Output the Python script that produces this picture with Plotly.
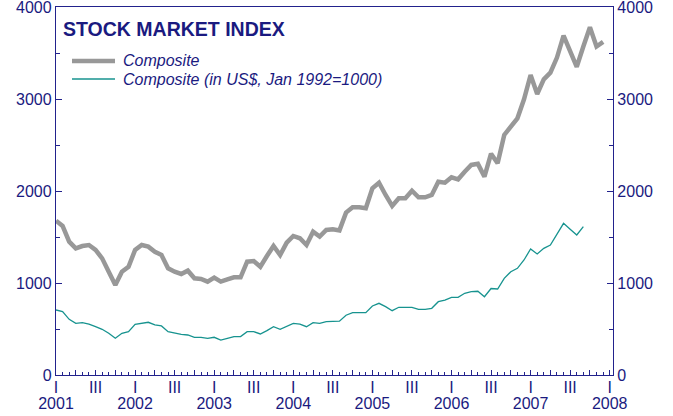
import plotly.graph_objects as go

# Monthly observations, Jan 2001 onward (month index 0 = Jan 2001)
composite = [1677, 1620, 1449, 1377, 1402, 1413, 1359, 1268, 1123, 978, 1123, 1177,
             1359, 1413, 1395, 1340, 1304, 1160, 1123, 1098, 1134, 1051, 1044, 1015,
             1058, 1015, 1040, 1062, 1062, 1232, 1239, 1177, 1293, 1402, 1304, 1438,
             1511, 1486, 1413, 1558, 1504, 1576, 1584, 1572, 1765, 1823, 1823, 1812,
             2029, 2090, 1957, 1837, 1921, 1921, 2003, 1932, 1932, 1957, 2101, 2090,
             2149, 2127, 2210, 2283, 2295, 2156, 2405, 2301, 2609, 2707, 2790, 2997,
             3261, 3054, 3214, 3286, 3450, 3690, 3520, 3350, 3570, 3780, 3570, 3620]
composite_usd = [707, 688, 605, 562, 569, 554, 525, 497, 453, 399, 453, 471,
                 551, 562, 573, 544, 533, 471, 453, 442, 435, 410, 410, 399,
                 410, 380, 399, 417, 417, 471, 471, 446, 482, 525, 497, 533,
                 562, 554, 525, 569, 562, 580, 580, 585, 650, 677, 677, 677,
                 750, 779, 743, 699, 736, 732, 736, 714, 714, 725, 797, 815,
                 844, 844, 888, 906, 910, 851, 940, 935, 1051, 1123, 1160, 1250,
                 1370, 1315, 1377, 1413, 1530, 1649, 1585, 1522, 1612]
years = [2001, 2002, 2003, 2004, 2005, 2006, 2007, 2008]
quarter_labels = ["I", "", "III", ""]
series_names = ["Composite", "Composite (in US$, Jan 1992=1000)"]
series_colors = ["#989898", "#17938f"]
series_widths = [4.5, 1.3]

months_c = list(range(len(composite)))
months_u = list(range(len(composite_usd)))

NAVY = "#1a1a80"
LINE = "#22228c"
FONT = "Liberation Sans, Arial, sans-serif"

# plot-area geometry (pixels)
L, R, T, B = 56, 60, 7, 41
PW, PH = 673 - L - R, 416 - T - B

q_vals, q_text = [], []
for i in range(len(years)):
    for q in range(4):
        m = i * 12 + q * 3
        if m > 84:
            break
        q_vals.append(m)
        q_text.append(quarter_labels[q])
y_vals = [i * 12 for i in range(len(years))]
y_text = [str(y) for y in years]

fig = go.Figure()
fig.add_trace(go.Scatter(x=months_c, y=composite, mode="lines", name=series_names[0],
                         line=dict(color=series_colors[0], width=series_widths[0])))
fig.add_trace(go.Scatter(x=months_u, y=composite_usd, mode="lines", name=series_names[1],
                         line=dict(color=series_colors[1], width=series_widths[1]),
                         yaxis="y2"))

# legend drawn as line samples + italic labels
legend_y_px = [61, 79]
shapes, annotations = [], []
for name, col, w, ypx in zip(series_names, series_colors, series_widths, legend_y_px):
    yp = 1 - (ypx - T) / PH
    shapes.append(dict(type="line", xref="paper", yref="paper",
                       x0=(72 - L) / PW, x1=(115 - L) / PW, y0=yp, y1=yp,
                       line=dict(color=col, width=w)))
    annotations.append(dict(xref="paper", yref="paper", x=(121 - L) / PW, y=yp,
                            xanchor="left", yanchor="middle", showarrow=False,
                            text=f"<i>{name}</i>",
                            font=dict(family=FONT, size=16, color=NAVY)))

yaxis_common = dict(range=[0, 4000], showgrid=False, zeroline=False, automargin=False,
                    showline=True, linecolor=LINE, linewidth=1.3,
                    tickmode="linear", tick0=0, dtick=1000,
                    ticks="inside", ticklen=6, tickcolor=LINE,
                    ticklabeloverflow="allow",
                    tickfont=dict(family=FONT, size=16, color=NAVY),
                    minor=dict(tickmode="linear", tick0=500, dtick=1000, ticks="inside",
                               ticklen=4, tickcolor=LINE))

fig.update_layout(
    width=673, height=416,
    margin=dict(l=L, r=R, t=T, b=B),
    paper_bgcolor="white", plot_bgcolor="white",
    font=dict(family=FONT, color=NAVY, size=16),
    title=dict(text="<b>STOCK MARKET INDEX</b>", x=63 / 673, y=1 - 29 / 416,
               xanchor="left", yanchor="middle", xref="container", yref="container",
               font=dict(family=FONT, size=19.5, color=NAVY)),
    showlegend=False,
    shapes=shapes, annotations=annotations,
    xaxis=dict(range=[0, 84.5], showgrid=False, zeroline=False, automargin=False,
               showline=True, linecolor=LINE, linewidth=1.3, mirror=True,
               tickmode="array", tickvals=q_vals, ticktext=q_text,
               ticks="inside", ticklen=5, tickcolor=LINE, tickwidth=1,
               ticklabelstandoff=-2, ticklabeloverflow="allow",
               tickfont=dict(family=FONT, size=16, color=NAVY),
               minor=dict(tickmode="linear", tick0=0, dtick=1, ticks="inside",
                          ticklen=2.5, tickcolor=LINE, tickwidth=1)),
    xaxis2=dict(range=[0, 84.5], overlaying="x", side="bottom", anchor="y",
                showgrid=False, zeroline=False, showline=False, automargin=False,
                tickmode="array", tickvals=y_vals, ticktext=y_text, ticks="",
                ticklabelstandoff=17, ticklabeloverflow="allow",
                tickfont=dict(family=FONT, size=16, color=NAVY)),
    yaxis=yaxis_common,
    yaxis2=dict(yaxis_common, overlaying="y", side="right"),
)
# invisible carrier so the year axis is drawn
fig.add_trace(go.Scatter(x=[0], y=[0], xaxis="x2", mode="markers",
                         marker=dict(opacity=0), hoverinfo="skip", showlegend=False))

fig.write_html("out.html", config={"displayModeBar": False},
               post_script="document.body.style.margin='0';document.body.style.padding='0';")
